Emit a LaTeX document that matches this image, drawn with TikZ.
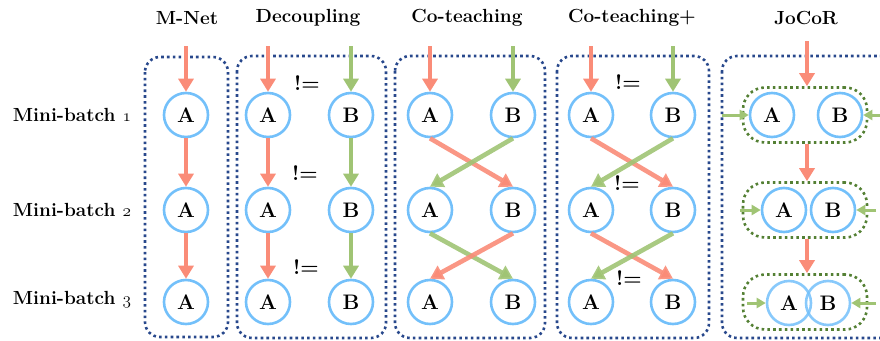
\documentclass[tikz,border=0pt]{standalone}
\usepackage{tikz}
\usetikzlibrary{arrows.meta}
\definecolor{loss}{RGB}{250, 140, 120}
\definecolor{peer}{RGB}{160, 196, 116}
\definecolor{net}{RGB}{115, 192, 250}
\definecolor{frm}{RGB}{40, 72, 140}
\definecolor{grp}{RGB}{84, 128, 52}
\newcommand{\osnum}[1]{{\fontencoding{OML}\fontfamily{lmm}\fontseries{b}\fontshape{it}\selectfont #1}}

\tikzset{
  netnode/.style={circle, draw=net, line width=2.6pt, minimum size=44pt, inner sep=0pt, font=\fontsize{21}{21}\selectfont\bfseries},
  lossarrow/.style={draw=loss, line width=4.6pt, -{Triangle[length=13pt, width=15pt]}},
  peerarrow/.style={draw=peer, line width=4.6pt, -{Triangle[length=13pt, width=15pt]}},
  sidearrow/.style={draw=peer, line width=3pt, -{Triangle[length=9pt, width=10pt]}},
  frame/.style={draw=frm, line width=2.6pt, dash pattern=on 2.6pt off 3.2pt, rounded corners=15pt},
  pairbox/.style={draw=grp, line width=2.6pt, dash pattern=on 2.6pt off 3.2pt, rounded corners=22pt, minimum width=124pt, minimum height=55pt, inner sep=0pt},
  title/.style={font=\fontsize{19}{19}\selectfont\bfseries},
  neq/.style={font=\fontsize{21}{21}\selectfont\bfseries}
}

\begin{document}
\begin{tikzpicture}[x=1pt, y=-1pt]
  \useasboundingbox (0,0) rectangle (880,340);

  % titles and rows
  \node[title] (tmnet) at (187,18) {M-Net};
  \node[title] (tdec) at (308,18) {Decoupling};
  \node[title] (tcot) at (467,18) {Co-teaching};
  \node[title] (tcotp) at (632,18) {Co-teaching+};
  \node[title] (tjoc) at (806,18) {JoCoR};
  \node[title] (row1) at (72,115) {Mini-batch \osnum{1}};
  \node[title] (row2) at (72,210) {Mini-batch \osnum{2}};
  \node[title] (row3) at (72,300) {Mini-batch \osnum{3}};

  % frames
  \draw[frame] (145,57) rectangle (228,337);
  \draw[frame] (237,56) rectangle (386,338);
  \draw[frame] (395,56) rectangle (545,338);
  \draw[frame] (557,56) rectangle (709,338);
  \draw[frame] (722,56) rectangle (900,338);

  % M-Net
  \node[netnode] (m1) at (186,115) {A};
  \node[netnode] (m2) at (186,210) {A};
  \node[netnode] (m3) at (186,302) {A};
  \coordinate (min) at (186,46);
  \draw[lossarrow] (min) -- (m1);
  \draw[lossarrow] (m1) -- (m2);
  \draw[lossarrow] (m2) -- (m3);

  % Decoupling
  \node[netnode] (dA1) at (268,115) {A};
  \node[netnode] (dA2) at (268,210) {A};
  \node[netnode] (dA3) at (268,302) {A};
  \node[netnode] (dB1) at (351,115) {B};
  \node[netnode] (dB2) at (351,210) {B};
  \node[netnode] (dB3) at (351,302) {B};
  \coordinate (dAin) at (268,46);
  \coordinate (dBin) at (351,46);
  \draw[lossarrow] (dAin) -- (dA1);
  \draw[lossarrow] (dA1) -- (dA2);
  \draw[lossarrow] (dA2) -- (dA3);
  \draw[peerarrow] (dBin) -- (dB1);
  \draw[peerarrow] (dB1) -- (dB2);
  \draw[peerarrow] (dB2) -- (dB3);
  \node[neq] (dneq1) at (307,83) {!=};
  \node[neq] (dneq2) at (305,173) {!=};
  \node[neq] (dneq3) at (306,267) {!=};

  % Co-teaching
  \node[netnode] (cA1) at (430,115) {A};
  \node[netnode] (cA2) at (430,210) {A};
  \node[netnode] (cA3) at (430,302) {A};
  \node[netnode] (cB1) at (513,115) {B};
  \node[netnode] (cB2) at (513,210) {B};
  \node[netnode] (cB3) at (513,302) {B};
  \coordinate (cAin) at (430,46);
  \coordinate (cBin) at (513,46);
  \draw[lossarrow] (cAin) -- (cA1);
  \draw[peerarrow] (cBin) -- (cB1);
  \draw[lossarrow, draw opacity=0.9] (cA1.south) -- (cB2.north);
  \draw[peerarrow, draw opacity=0.9] (cB1.south) -- (cA2.north);
  \draw[peerarrow, draw opacity=0.9] (cA2.south) -- (cB3.north);
  \draw[lossarrow, draw opacity=0.9] (cB2.south) -- (cA3.north);

  % Co-teaching+
  \node[netnode] (pA1) at (591,115) {A};
  \node[netnode] (pA2) at (591,210) {A};
  \node[netnode] (pA3) at (591,302) {A};
  \node[netnode] (pB1) at (673,115) {B};
  \node[netnode] (pB2) at (673,210) {B};
  \node[netnode] (pB3) at (673,302) {B};
  \coordinate (pAin) at (591,46);
  \coordinate (pBin) at (673,46);
  \draw[lossarrow] (pAin) -- (pA1);
  \draw[peerarrow] (pBin) -- (pB1);
  \draw[lossarrow, draw opacity=0.9] (pA1.south) -- (pB2.north);
  \draw[peerarrow, draw opacity=0.9] (pB1.south) -- (pA2.north);
  \draw[lossarrow, draw opacity=0.9] (pA2.south) -- (pB3.north);
  \draw[peerarrow, draw opacity=0.9] (pB2.south) -- (pA3.north);
  \node[neq] (pneq1) at (628,82) {!=};
  \node[neq] (pneq2) at (627,183) {!=};
  \node[neq] (pneq3) at (629,278) {!=};

  % JoCoR
  \node[pairbox] (j1) at (805,115) {};
  \node[pairbox] (j2) at (805,210) {};
  \node[pairbox] (j3) at (805,302) {};
  \node[netnode] (jA1) at (772,115) {A};
  \node[netnode] (jB1) at (840,115) {B};
  \node[netnode] (jA2) at (784,210) {A};
  \node[netnode] (jB2) at (833,210) {B};
  \node[netnode, draw opacity=0.85] (jA3) at (789,303) {A};
  \node[netnode, draw opacity=0.85] (jB3) at (828,303) {B};
  \coordinate (jin) at (807,41);
  \draw[lossarrow] (jin) -- (jin |- j1.north);
  \draw[lossarrow] (j1.south -| jin) -- (j2.north -| jin);
  \draw[lossarrow] (j2.south -| jin) -- (j3.north -| jin);
  \coordinate (jl1) at (722,115);
  \coordinate (jr1) at (885,115);
  \coordinate (jl2) at (740,210);
  \coordinate (jr2) at (876,210);
  \coordinate (jl3) at (747,303);
  \coordinate (jr3) at (876,303);
  \draw[sidearrow] (jl1) -- (jA1);
  \draw[sidearrow] (jr1) -- (jB1);
  \draw[sidearrow] (jl2) -- (jA2);
  \draw[sidearrow] (jr2) -- (jB2);
  \draw[sidearrow] (jl3) -- (jA3);
  \draw[sidearrow] (jr3) -- (jB3);
\end{tikzpicture}
\end{document}
